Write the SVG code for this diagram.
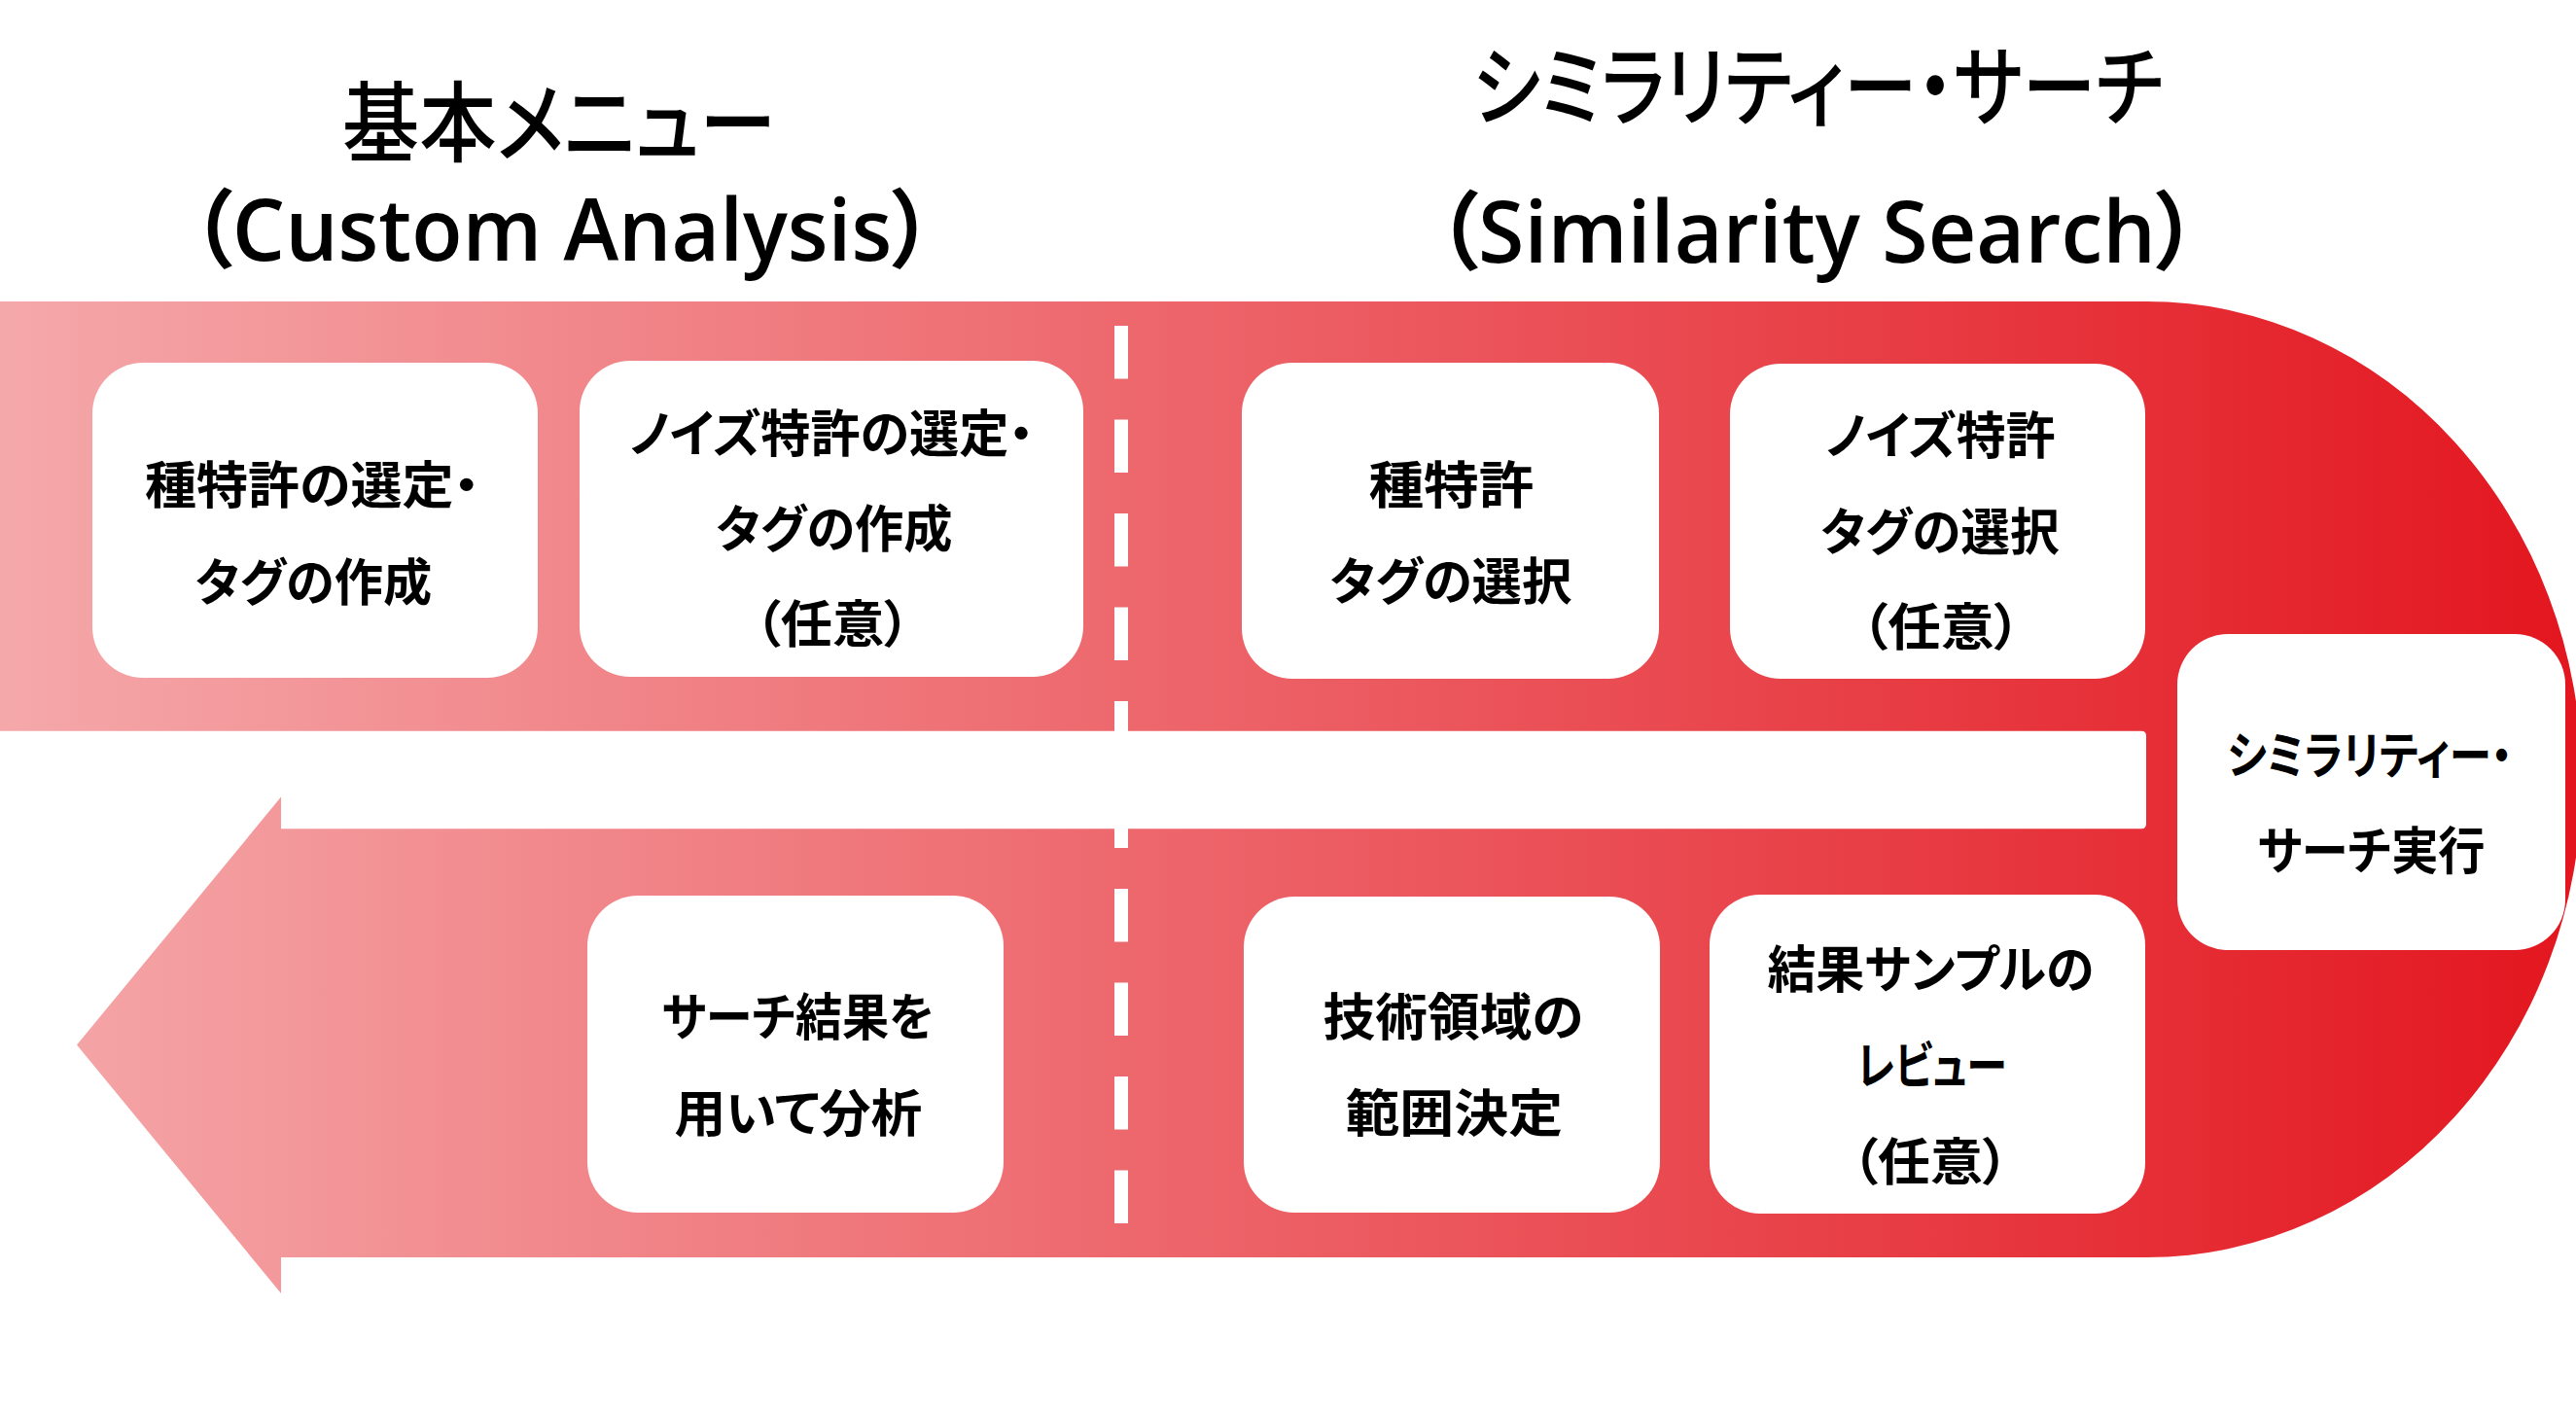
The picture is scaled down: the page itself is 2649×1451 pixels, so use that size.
<svg xmlns="http://www.w3.org/2000/svg" width="2649" height="1451" viewBox="0 0 2649 1451">
  <style>
    .box { fill: #FFFFFF; }
    .t { font-family: "Noto Sans CJK JP", "Noto Sans", sans-serif; font-weight: 700; font-size: 52px; fill: #000000; font-feature-settings: "palt" 1; }
    .h { font-family: "Noto Sans CJK JP", "Noto Sans", sans-serif; font-weight: 500; font-size: 90px; fill: #000000; font-feature-settings: "palt" 1; }
    .hl { font-family: "Open Sans", "Noto Sans CJK JP", sans-serif; font-weight: 600; font-size: 88px; fill: #000000; font-feature-settings: "palt" 1; }
    .dash { stroke: #FFFFFF; stroke-width: 14; stroke-dasharray: 54.5 42; fill: none; }
  </style>
  <defs>
    <linearGradient id="flow" gradientUnits="userSpaceOnUse" x1="0" y1="0" x2="2649" y2="0">
      <stop offset="0" stop-color="#F5A8AA"/>
      <stop offset="1" stop-color="#E3161F"/>
    </linearGradient>
  </defs>

  <rect x="0" y="0" width="2649" height="1451" fill="#FFFFFF"/>

  <g id="connectors">
    <path id="u-arrow" fill="url(#flow)" d="M0,310 H2207 A448,491.5 0 0 1 2207,1293 H289 V1330 L79,1074.5 L289,819.6 V852.3 H2202 Q2207,852.3 2207,847.3 V756.7 Q2207,751.7 2202,751.7 H0 Z"/>
    <line id="divider" class="dash" x1="1153" y1="335" x2="1153" y2="1262"/>
  </g>

  <g id="title-custom">
    <text class="h" x="352" y="159" textLength="446" lengthAdjust="spacingAndGlyphs">基本メニュー</text>
    <text class="hl" x="196" y="268" textLength="764" lengthAdjust="spacingAndGlyphs">（Custom Analysis）</text>
  </g>
  <g id="title-similarity">
    <text class="h" x="1514" y="122" textLength="710" lengthAdjust="spacingAndGlyphs">シミラリティー・サーチ</text>
    <text class="hl" x="1477" y="270" textLength="783" lengthAdjust="spacingAndGlyphs">（Similarity Search）</text>
  </g>

  <g id="node-seed-select">
    <rect class="box" x="95" y="373" width="458" height="324" rx="52"/>
    <text class="t" x="149" y="518" textLength="344" lengthAdjust="spacingAndGlyphs">種特許の選定・</text>
    <text class="t" x="200.7" y="618" textLength="243.5" lengthAdjust="spacingAndGlyphs">タグの作成</text>
  </g>
  <g id="node-noise-select">
    <rect class="box" x="596" y="371" width="518" height="325" rx="52"/>
    <text class="t" x="647" y="465" textLength="416" lengthAdjust="spacingAndGlyphs">ノイズ特許の選定・</text>
    <text class="t" x="736" y="563" textLength="243.5" lengthAdjust="spacingAndGlyphs">タグの作成</text>
    <text class="t" x="776" y="661" textLength="160" lengthAdjust="spacingAndGlyphs">（任意）</text>
  </g>
  <g id="node-seed-tag">
    <rect class="box" x="1277" y="373" width="429" height="325" rx="52"/>
    <text class="t" x="1407.4" y="518" textLength="170" lengthAdjust="spacingAndGlyphs">種特許</text>
    <text class="t" x="1367.4" y="617" textLength="249" lengthAdjust="spacingAndGlyphs">タグの選択</text>
  </g>
  <g id="node-noise-tag">
    <rect class="box" x="1779" y="374" width="427" height="324" rx="52"/>
    <text class="t" x="1877" y="467" textLength="236.6" lengthAdjust="spacingAndGlyphs">ノイズ特許</text>
    <text class="t" x="1872" y="566" textLength="245.6" lengthAdjust="spacingAndGlyphs">タグの選択</text>
    <text class="t" x="1914" y="664" textLength="164" lengthAdjust="spacingAndGlyphs">（任意）</text>
  </g>
  <g id="node-run">
    <rect class="box" x="2239" y="652" width="399" height="325" rx="52"/>
    <text class="t" x="2290.4" y="796" textLength="293" lengthAdjust="spacingAndGlyphs">シミラリティー・</text>
    <text class="t" x="2321.4" y="894" textLength="234.2" lengthAdjust="spacingAndGlyphs">サーチ実行</text>
  </g>
  <g id="node-review">
    <rect class="box" x="1758" y="920" width="448" height="328" rx="52"/>
    <text class="t" x="1817.4" y="1016" textLength="335.8" lengthAdjust="spacingAndGlyphs">結果サンプルの</text>
    <text class="t" x="1909.4" y="1115" textLength="154.2" lengthAdjust="spacingAndGlyphs">レビュー</text>
    <text class="t" x="1904" y="1214" textLength="162" lengthAdjust="spacingAndGlyphs">（任意）</text>
  </g>
  <g id="node-scope">
    <rect class="box" x="1279" y="922" width="428" height="325" rx="52"/>
    <text class="t" x="1360.4" y="1065" textLength="268" lengthAdjust="spacingAndGlyphs">技術領域の</text>
    <text class="t" x="1383.4" y="1164" textLength="223.7" lengthAdjust="spacingAndGlyphs">範囲決定</text>
  </g>
  <g id="node-analyze">
    <rect class="box" x="604" y="921" width="428" height="326" rx="52"/>
    <text class="t" x="680.4" y="1065" textLength="280" lengthAdjust="spacingAndGlyphs">サーチ結果を</text>
    <text class="t" x="693.4" y="1164" textLength="255" lengthAdjust="spacingAndGlyphs">用いて分析</text>
  </g>
</svg>
